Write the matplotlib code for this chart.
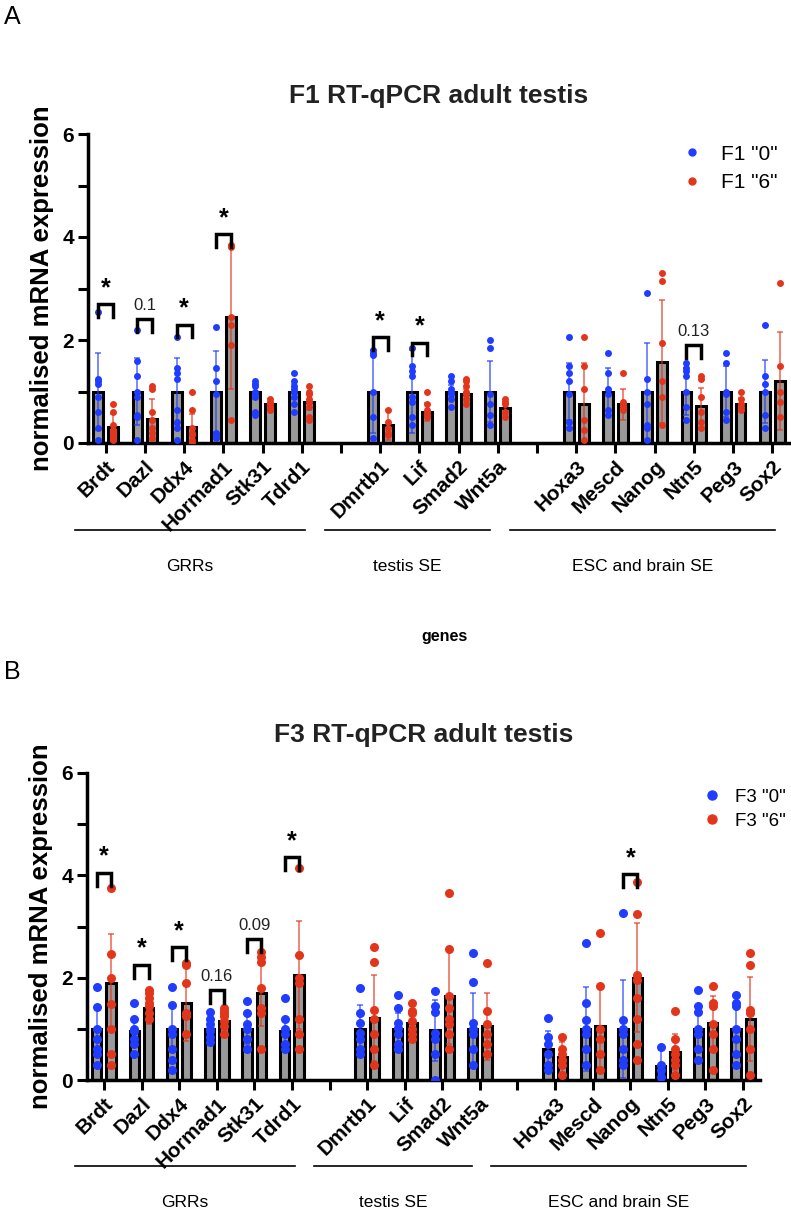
import matplotlib
matplotlib.use("Agg")
import matplotlib.pyplot as plt
import matplotlib.transforms as mtransforms
from matplotlib.lines import Line2D
import numpy as np

plt.rcParams['font.family'] = ['Liberation Sans', 'DejaVu Sans']

#! --- data --- !#
genes = ["Brdt", "Dazl", "Ddx4", "Hormad1", "Stk31", "Tdrd1", "",
         "Dmrtb1", "Lif", "Smad2", "Wnt5a", "",
         "Hoxa3", "Mescd", "Nanog", "Ntn5", "Peg3", "Sox2"]
groups = [("GRRs", -0.78, 5.09), ("testis SE", 5.6, 9.8), ("ESC and brain SE", 10.3, 17.08)]
gene_list = [g for g in genes if g]

# panel A: F1
a_mean_0 = [1.0] * 16
a_sd_0 = [0.75, 0.65, 0.65, 0.78, 0.15, 0.15, 0.8, 0.8, 0.12, 0.6, 0.55, 0.45, 0.94, 0.45, 0.5, 0.62]
a_mean_6 = [0.31, 0.46, 0.31, 2.45, 0.75, 0.8, 0.35, 0.6, 0.95, 0.67, 0.75, 0.75, 1.58, 0.72, 0.75, 1.2]
a_sd_6 = [0.25, 0.4, 0.25, 1.4, 0.1, 0.15, 0.3, 0.18, 0.1, 0.13, 0.8, 0.3, 1.2, 0.35, 0.12, 0.95]
a_pts_0 = [
    [2.55, 1.25, 1.2, 1.15, 0.9, 0.6, 0.3, 0.05],
    [2.2, 1.6, 1.3, 1.0, 0.9, 0.55, 0.5, 0.05],
    [2.05, 1.45, 1.35, 1.25, 0.65, 0.4, 0.3, 0.05],
    [2.25, 1.45, 1.2, 0.95, 0.2, 0.15, 0.1],
    [1.2, 1.15, 1.1, 1.0, 0.95, 0.9, 0.6, 0.55],
    [1.35, 1.2, 1.1, 1.05, 1.0, 0.9, 0.75, 0.6],
    [1.8, 1.75, 1.7, 1.0, 0.5, 0.1],
    [1.85, 1.5, 1.4, 1.3, 0.9, 0.8, 0.5, 0.35],
    [1.3, 1.2, 1.05, 1.0, 0.95, 0.85, 0.7],
    [2.0, 1.85, 0.95, 0.75, 0.55, 0.35],
    [2.05, 1.5, 1.35, 1.2, 0.95, 0.4, 0.3],
    [1.75, 1.35, 1.05, 0.95, 0.65, 0.55],
    [2.92, 1.25, 1.0, 0.75, 0.35, 0.3, 0.05],
    [1.55, 1.45, 1.4, 1.3, 1.0, 0.7, 0.45],
    [1.75, 1.55, 1.0, 0.95, 0.6, 0.45],
    [2.3, 1.3, 1.15, 1.0, 0.55, 0.3],
]
a_pts_6 = [
    [0.75, 0.6, 0.35, 0.25, 0.2, 0.15, 0.1, 0.05],
    [1.1, 1.05, 0.6, 0.45, 0.3, 0.2, 0.1],
    [1.0, 0.65, 0.3, 0.2, 0.15, 0.05, 0.0],
    [3.85, 3.8, 2.45, 2.3, 1.9, 0.45],
    [0.85, 0.8, 0.75, 0.7, 0.65],
    [1.1, 1.0, 0.95, 0.85, 0.8, 0.7, 0.5, 0.45],
    [0.65, 0.4, 0.3, 0.2, 0.15],
    [1.0, 0.75, 0.65, 0.6, 0.55, 0.55, 0.5],
    [1.25, 1.2, 1.1, 1.0, 0.95, 0.85, 0.75],
    [0.85, 0.8, 0.75, 0.6, 0.5],
    [2.05, 1.5, 1.05, 0.45, 0.25, 0.05],
    [1.35, 0.8, 0.75, 0.7, 0.65],
    [3.3, 3.15, 1.95, 1.2, 0.9, 0.35],
    [1.3, 1.25, 0.9, 0.6, 0.4, 0.3],
    [1.0, 0.85, 0.75, 0.7, 0.65],
    [3.1, 1.5, 1.0, 0.8, 0.5],
]
a_sig = {"Brdt": (2.7, "*"), "Dazl": (2.4, "0.1"), "Ddx4": (2.3, "*"), "Hormad1": (4.05, "*"),
         "Dmrtb1": (2.05, "*"), "Lif": (1.95, "*"), "Ntn5": (1.9, "0.13")}

# panel B: F3
b_mean_0 = [1.0, 0.95, 1.0, 1.0, 1.0, 0.95, 1.0, 1.0, 0.97, 1.0, 0.6, 1.0, 1.0, 0.28, 1.0, 1.0]
b_sd_0 = [0.45, 0.25, 0.45, 0.2, 0.3, 0.25, 0.47, 0.3, 0.6, 0.7, 0.35, 0.82, 0.96, 0.3, 0.45, 0.5]
b_mean_6 = [1.9, 1.4, 1.5, 1.15, 1.7, 2.05, 1.22, 1.12, 1.65, 1.05, 0.45, 1.05, 2.0, 0.55, 1.12, 1.2]
b_sd_6 = [0.95, 0.3, 0.74, 0.15, 0.65, 1.05, 0.84, 0.2, 0.95, 0.65, 0.3, 0.8, 1.06, 0.35, 0.53, 0.82]
b_pts_0 = [
    [1.82, 1.43, 1.0, 0.8, 0.6, 0.5, 0.3],
    [1.5, 1.2, 1.0, 0.95, 0.8, 0.7, 0.5],
    [1.82, 1.47, 1.0, 0.9, 0.6, 0.4, 0.2],
    [1.33, 1.2, 1.1, 1.0, 0.95, 0.85, 0.75],
    [1.55, 1.3, 1.1, 1.0, 0.8, 0.6],
    [1.6, 1.2, 1.0, 0.9, 0.7, 0.6],
    [1.8, 1.3, 1.12, 0.92, 0.8, 0.6, 0.5],
    [1.67, 1.41, 1.12, 1.02, 0.9, 0.7, 0.6],
    [1.73, 1.45, 1.33, 0.92, 0.8, 0.5, 0.0],
    [2.48, 1.92, 1.12, 1.0, 0.9, 0.6, 0.3],
    [1.22, 0.85, 0.7, 0.5, 0.3, 0.2],
    [2.67, 1.51, 1.18, 1.0, 0.9, 0.6, 0.3],
    [3.27, 1.18, 1.0, 0.9, 0.6, 0.4, 0.3],
    [0.65, 0.3, 0.2, 0.05],
    [1.75, 1.45, 1.33, 1.0, 0.9, 0.6, 0.4],
    [1.67, 1.51, 1.45, 1.0, 0.8, 0.5, 0.3],
]
b_pts_6 = [
    [3.76, 2.47, 2.0, 1.49, 1.0, 0.5, 0.3],
    [1.76, 1.7, 1.6, 1.5, 1.45, 1.3, 1.2],
    [2.29, 2.25, 1.9, 1.3, 1.25, 0.9],
    [1.4, 1.35, 1.3, 1.25, 1.15, 1.05, 0.9],
    [2.5, 2.4, 2.3, 1.8, 1.4, 1.3, 0.6],
    [4.15, 2.45, 2.0, 1.9, 1.2, 0.9, 0.6],
    [2.59, 2.31, 1.37, 1.2, 0.9, 0.6, 0.3],
    [1.5, 1.35, 1.3, 1.15, 1.0, 0.9, 0.8],
    [3.66, 2.57, 1.65, 1.4, 1.2, 1.1, 0.9, 0.6],
    [2.29, 1.35, 1.1, 0.9, 0.7, 0.5],
    [0.85, 0.6, 0.5, 0.4, 0.3, 0.1],
    [2.88, 1.84, 1.0, 0.8, 0.5, 0.2],
    [3.86, 3.24, 2.05, 1.95, 1.6, 1.2, 0.7, 0.4],
    [1.35, 0.8, 0.6, 0.5, 0.4, 0.3, 0.1],
    [1.83, 1.51, 1.45, 1.1, 0.9, 0.6, 0.2],
    [2.49, 2.24, 1.37, 1.3, 1.0, 0.6, 0.1],
]
b_sig = {"Brdt": (4.05, "*"), "Dazl": (2.25, "*"), "Ddx4": (2.6, "*"), "Hormad1": (1.76, "0.16"),
         "Stk31": (2.75, "0.09"), "Tdrd1": (4.35, "*"), "Nanog": (4.02, "*")}

BLUE = "#1f3cff"
RED = "#e2361c"
W, H = 791, 1211


def px_axes(fig, left, top, right, bottom):
    return fig.add_axes([left / W, 1 - bottom / H, (right - left) / W, (bottom - top) / H])


def draw_panel(ax, mean0, sd0, pts0, mean6, sd6, pts6, sig, title, msize):
    pos = [i for i, g in enumerate(genes) if g]
    off, bw = 0.19, 0.25
    for k, p in enumerate(pos):
        for m, sd, pts, col, sgn in [(mean0[k], sd0[k], pts0[k], BLUE, -1),
                                     (mean6[k], sd6[k], pts6[k], RED, 1)]:
            x = p + sgn * off
            ax.bar(x, m, width=bw, color="#9a9a9a", edgecolor="black", linewidth=2.2, zorder=2)
            ax.errorbar(x, m, yerr=sd, fmt="none", ecolor=col, alpha=0.65, elinewidth=1.3,
                        capsize=2.5, capthick=1.3, zorder=3)
            ax.plot([x] * len(pts), pts, "o", color=col, markersize=msize, markeredgewidth=0, zorder=4)
        if gene_list[k] in sig:
            h, lab = sig[gene_list[k]]
            ax.plot([p - off, p - off, p + off, p + off], [h - 0.25, h, h, h - 0.25],
                    color="black", linewidth=2.5, solid_joinstyle="miter", zorder=5)
            if lab == "*":
                ax.text(p, h + 0.08, "*", ha="center", va="bottom", fontsize=18, fontweight="bold")
            else:
                ax.text(p, h + 0.12, lab, ha="center", va="bottom", fontsize=12, color="#222222")

    ax.set_ylim(0, 6)
    ax.set_xlim(-0.45, 17.45)
    ax.set_yticks([0, 2, 4, 6])
    ax.set_yticks([1, 3, 5], minor=True)
    ax.set_xticks(range(len(genes)))
    ax.set_xticklabels(genes, rotation=45, ha="right", rotation_mode="anchor",
                       fontsize=15, fontweight="bold")
    for t in ax.get_yticklabels():
        t.set_fontweight("bold")
        t.set_fontsize(15)
    ax.tick_params(axis="both", which="major", length=7, width=2.2, pad=3)
    ax.tick_params(axis="y", which="minor", length=7, width=2.2)
    ax.spines[["top", "right"]].set_visible(False)
    ax.spines[["left", "bottom"]].set_linewidth(2.5)
    ax.set_ylabel("normalised mRNA expression", fontsize=18.5, fontweight="bold", labelpad=6)

    trans = mtransforms.blended_transform_factory(ax.transData, ax.transAxes)
    for name, x0, x1 in groups:
        ax.plot([x0, x1], [-0.28, -0.28], color="black", linewidth=1.2, transform=trans, clip_on=False)
        ax.text((x0 + x1) / 2, -0.375, name, ha="center", va="top", fontsize=12.5, transform=trans)
    ax.set_title(title, fontsize=19, fontweight="bold", color="#222222", pad=22)

    handles = [Line2D([], [], marker="o", linestyle="none", color=BLUE, markersize=msize),
               Line2D([], [], marker="o", linestyle="none", color=RED, markersize=msize)]
    return handles


fig = plt.figure(figsize=(W / 100, H / 100), dpi=100)

ax_a = px_axes(fig, 88, 134, 790, 443)
h = draw_panel(ax_a, a_mean_0, a_sd_0, a_pts_0, a_mean_6, a_sd_6, a_pts_6, a_sig,
               "F1 RT-qPCR adult testis", 5)
ax_a.legend(h, ['F1 "0"', 'F1 "6"'], loc="upper left", bbox_to_anchor=(652 / W, 1 - 126 / H),
            bbox_transform=fig.transFigure, frameon=False, fontsize=15, handletextpad=0.4,
            labelspacing=0.45)

ax_b = px_axes(fig, 87, 773, 760, 1080)
h = draw_panel(ax_b, b_mean_0, b_sd_0, b_pts_0, b_mean_6, b_sd_6, b_pts_6, b_sig,
               "F3 RT-qPCR adult testis", 6.5)
ax_b.legend(h, ['F3 "0"', 'F3 "6"'], loc="upper left", bbox_to_anchor=(676 / W, 1 - 772 / H),
            bbox_transform=fig.transFigure, frameon=False, fontsize=13.5, handletextpad=0.25,
            labelspacing=0.35)

fig.text(445 / W, 1 - 637 / H, "genes", ha="center", va="center", fontsize=11.5, fontweight="bold")
fig.text(4 / W, 1 - 17 / H, "A", ha="left", va="center", fontsize=18)
fig.text(4 / W, 1 - 672 / H, "B", ha="left", va="center", fontsize=18)

plt.savefig("out.png", dpi=100)
